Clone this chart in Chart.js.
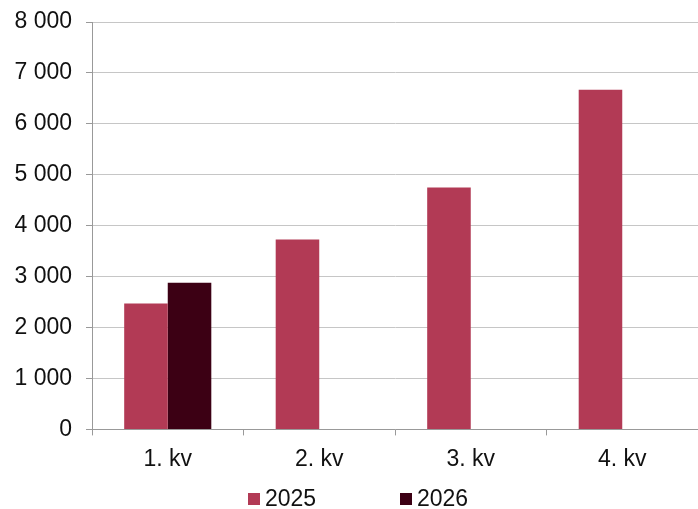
<!DOCTYPE html>
<html>
<head>
<meta charset="utf-8">
<script src="https://cdn.jsdelivr.net/npm/chart.js@4"></script>
<style>
  html, body { margin: 0; padding: 0; background: #fff; }
  #wrap { position: relative; width: 698px; height: 509px; }
  #legend { position: absolute; top: 485px; left: 0; width: 698px; height: 26px;
            font-family: "Liberation Sans", Arial, sans-serif; font-size: 23px; color: #111; }
  .item { position: absolute; top: 0; line-height: 26px; white-space: nowrap; }
  .swatch { display: inline-block; width: 12px; height: 12px; margin-right: 5px; vertical-align: 1px; }
</style>
</head>
<body>
<div id="wrap">
  <canvas id="chart" width="698" height="509"></canvas>
  <div id="legend"></div>
</div>
<script>
// Quarters and values
const quarters = ['1. kv', '2. kv', '3. kv', '4. kv'];
const values2025 = [2470, 3730, 4750, 6670];
const values2026 = [2880, null, null, null];
const seriesNames = ['2025', '2026'];
const seriesColors = ['#B23A55', '#3C0014'];
const yTicks = [0, 1000, 2000, 3000, 4000, 5000, 6000, 7000, 8000];

const fontFamily = '"Liberation Sans", Arial, sans-serif';
Chart.defaults.font.family = fontFamily;
Chart.defaults.color = '#111';

// format 8000 -> "8 000"
function spaced(v) {
    return String(v).replace(/\B(?=(\d{3})+(?!\d))/g, ' ');
}

const chart = new Chart(document.getElementById('chart'), {
    type: 'bar',
    data: {
        labels: quarters,
        datasets: [
            { label: seriesNames[0], data: values2025, backgroundColor: seriesColors[0] },
            { label: seriesNames[1], data: values2026, backgroundColor: seriesColors[1] }
        ]
    },
    options: {
        responsive: false,
        animation: false,
        layout: { padding: { top: 22, right: 0, bottom: 26, left: 0 } },
        datasets: { bar: { barPercentage: 1, categoryPercentage: 0.575 } },
        plugins: { legend: { display: false }, tooltip: { enabled: false } },
        scales: {
            x: {
                grid: { offset: true, drawOnChartArea: false, tickLength: 6, color: '#999' },
                border: { color: '#999' },
                ticks: { font: { size: 23 }, padding: 10, color: '#111' }
            },
            y: {
                min: 0,
                max: 8000,
                afterBuildTicks: s => { s.ticks = yTicks.map(v => ({ value: v })); },
                afterFit: s => { s.width = 92; s.paddingTop = 0; s.paddingBottom = 0; },
                grid: { color: '#c6c6c6', tickColor: '#999', tickLength: 6 },
                border: { color: '#999' },
                ticks: { font: { size: 23 }, padding: 14, color: '#111', callback: v => spaced(v) }
            }
        }
    }
});

// legend below the plot
const legend = document.getElementById('legend');
const legendX = [248, 400];
seriesNames.forEach((name, i) => {
    const item = document.createElement('div');
    item.className = 'item';
    item.style.left = legendX[i] + 'px';
    item.innerHTML = '<span class="swatch" style="background:' + seriesColors[i] + '"></span>' + name;
    legend.appendChild(item);
});
</script>
</body>
</html>
